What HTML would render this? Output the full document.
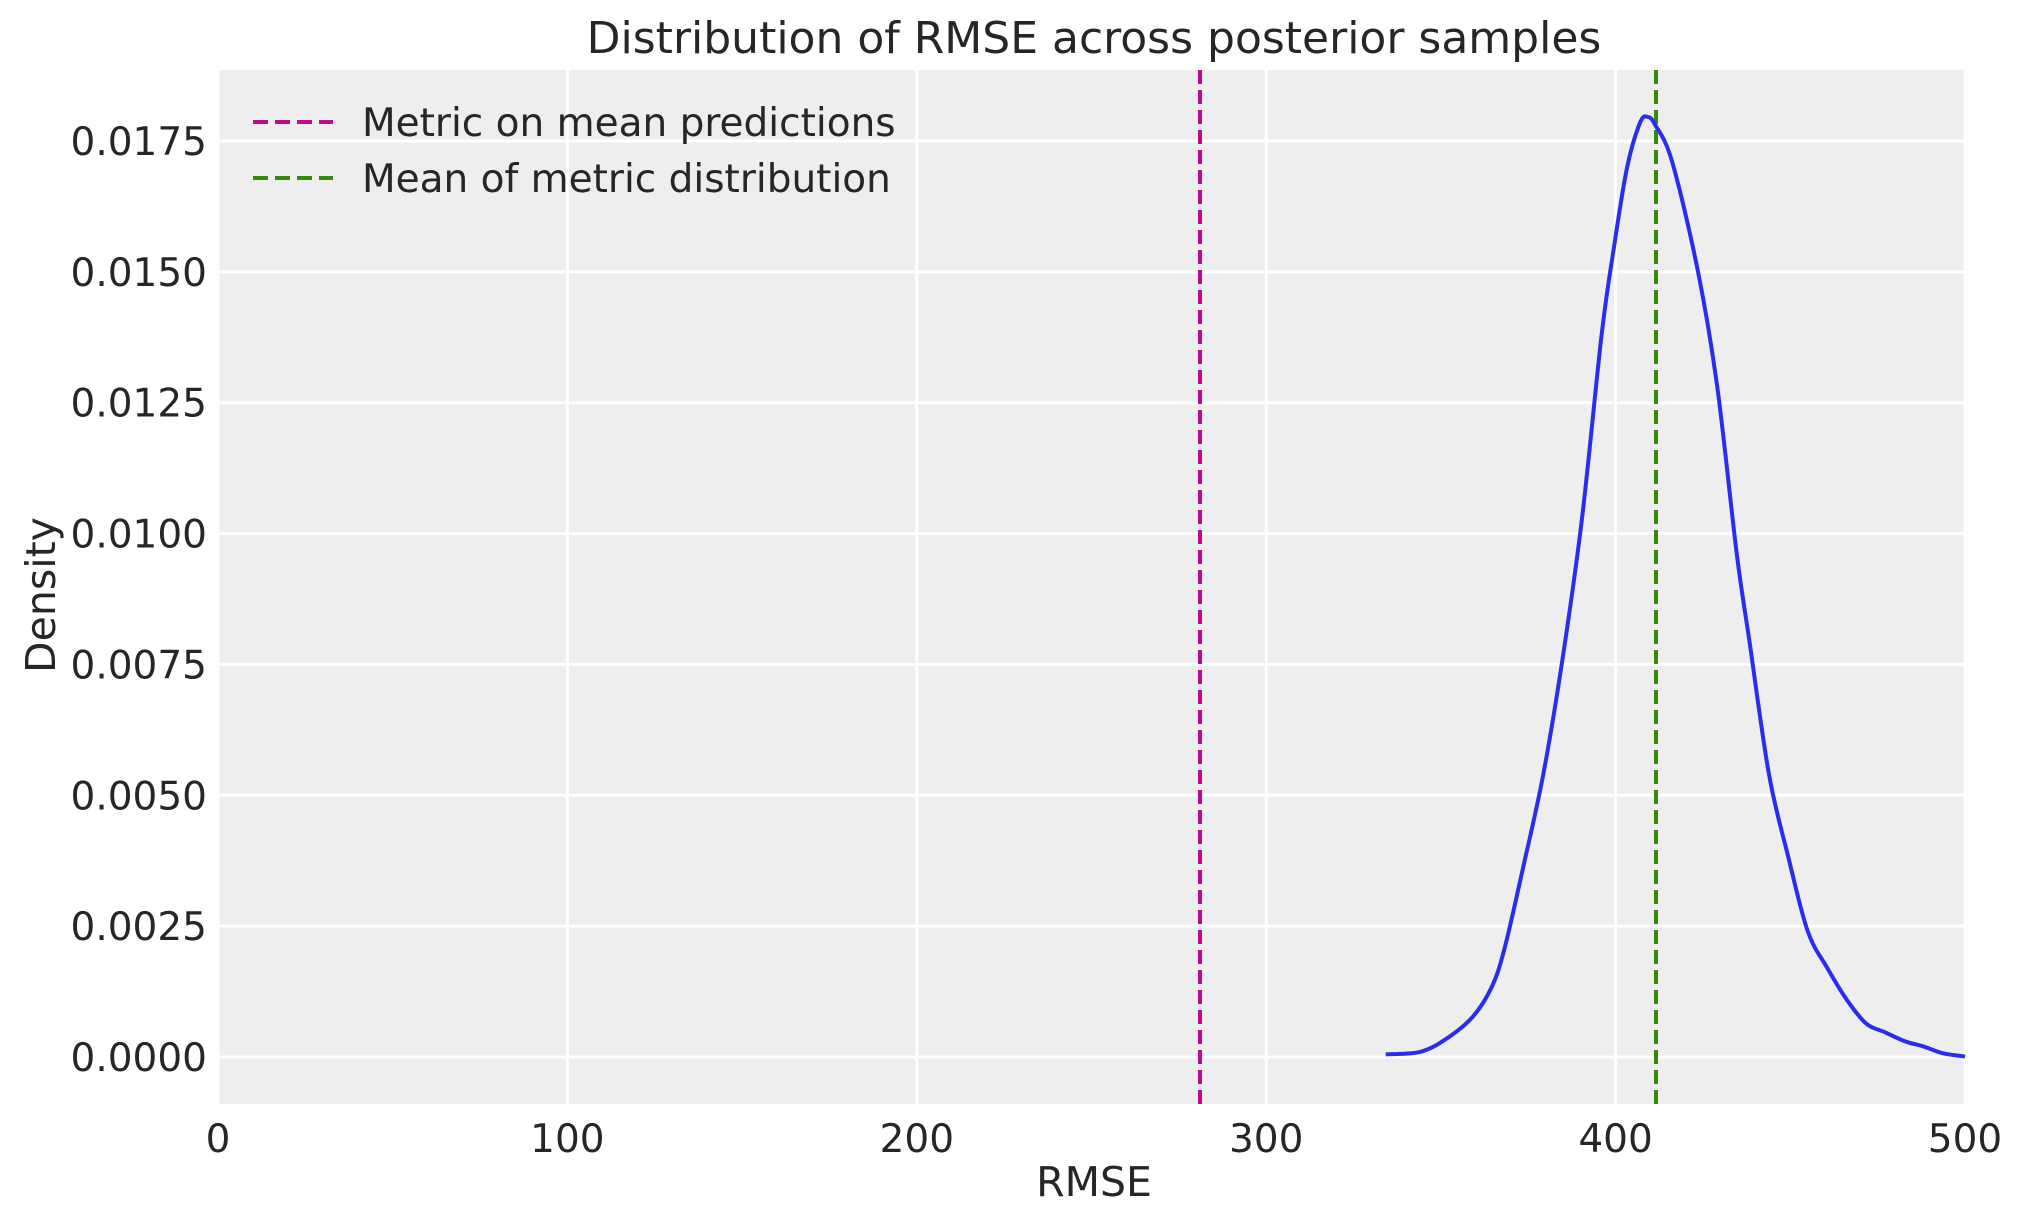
<!DOCTYPE html>
<html><head><meta charset="utf-8"><style>
html,body{margin:0;padding:0;background:#fff}
svg{display:block}
text{font-family:"DejaVu Sans","Liberation Sans",sans-serif;fill:#262626}
</style></head><body>
<svg id="s" width="2023" height="1223" viewBox="0 0 2023 1223" xmlns="http://www.w3.org/2000/svg">
<rect x="218" y="70" width="1747" height="1034" fill="#eeeeee"/>
<g id="grid" stroke="#ffffff" stroke-width="3"></g>
<g id="ticks" font-size="39"></g>
<line x1="1200" y1="70" x2="1200" y2="1104" stroke="#c0088f" stroke-width="4" stroke-dasharray="14,6"/>
<line x1="1656" y1="70" x2="1656" y2="1104" stroke="#328c06" stroke-width="4" stroke-dasharray="14,6"/>
<path id="kde" fill="none" stroke="#2a2eec" stroke-width="4" stroke-linejoin="round"/>
<line x1="253" y1="122" x2="333" y2="122" stroke="#c0088f" stroke-width="4" stroke-dasharray="15,7"/>
<line x1="253" y1="178" x2="333" y2="178" stroke="#328c06" stroke-width="4" stroke-dasharray="15,7"/>
<text x="362" y="136" font-size="39">Metric on mean predictions</text>
<text x="362" y="192" font-size="39">Mean of metric distribution</text>
<text x="1094" y="53" font-size="44" text-anchor="middle">Distribution of RMSE across posterior samples</text>
<text x="1094" y="1196" font-size="41" text-anchor="middle">RMSE</text>
<text x="0" y="0" font-size="41" text-anchor="middle" transform="translate(55,595) rotate(-90)">Density</text>
</svg>
<script>
var X=function(x){return 218+3.494*x},Y=function(d){return 1057-52343*d};
var g=document.getElementById('grid'),t=document.getElementById('ticks'),h='';
for(var i=0;i<=5;i++){var x=X(i*100);h+='<line x1="'+x+'" y1="70" x2="'+x+'" y2="1104"/>';}
for(var j=0;j<=7;j++){var y=Y(j*0.0025);h+='<line x1="218" y1="'+y+'" x2="1965" y2="'+y+'"/>';}
g.innerHTML=h;
var tt='';
for(var i=0;i<=5;i++){tt+='<text x="'+X(i*100)+'" y="1152" text-anchor="middle">'+(i*100)+'</text>';}
for(var j=0;j<=7;j++){tt+='<text x="207" y="'+(Y(j*0.0025)+14)+'" text-anchor="end">'+(j*0.0025).toFixed(4)+'</text>';}
t.innerHTML=tt;
var p=[[334.2,0.00005],[344.2,0.0001],[351.6,0.00035],[359,0.00076],[364.5,0.00133],[368.2,0.00207],[373.7,0.00367],[379.3,0.0054],[384.8,0.0076],[390.4,0.0103],[396,0.0138],[399.6,0.0155],[403.3,0.0170],[407,0.01785],[409.2,0.01796],[411.4,0.0178],[416.2,0.0171],[423.6,0.0150],[429.1,0.0128],[434.7,0.0096],[438.4,0.0079],[443.9,0.0054],[449.5,0.0038],[455,0.0024],[460.6,0.0017],[466.1,0.0011],[471.7,0.00064],[477.2,0.00047],[482.8,0.0003],[488.2,0.0002],[493.7,0.00007],[500,0.00001]];
var pts=p.map(function(a){return [X(a[0]),Y(a[1])]});
var d='M'+pts[0][0]+','+pts[0][1];
for(var k=0;k<pts.length-1;k++){var p0=pts[k-1]||pts[k],p1=pts[k],p2=pts[k+1],p3=pts[k+2]||p2;
d+=' C'+(p1[0]+(p2[0]-p0[0])/6)+','+(p1[1]+(p2[1]-p0[1])/6)+' '+(p2[0]-(p3[0]-p1[0])/6)+','+(p2[1]-(p3[1]-p1[1])/6)+' '+p2[0]+','+p2[1];}
document.getElementById('kde').setAttribute('d',d);
</script>
</body></html>
